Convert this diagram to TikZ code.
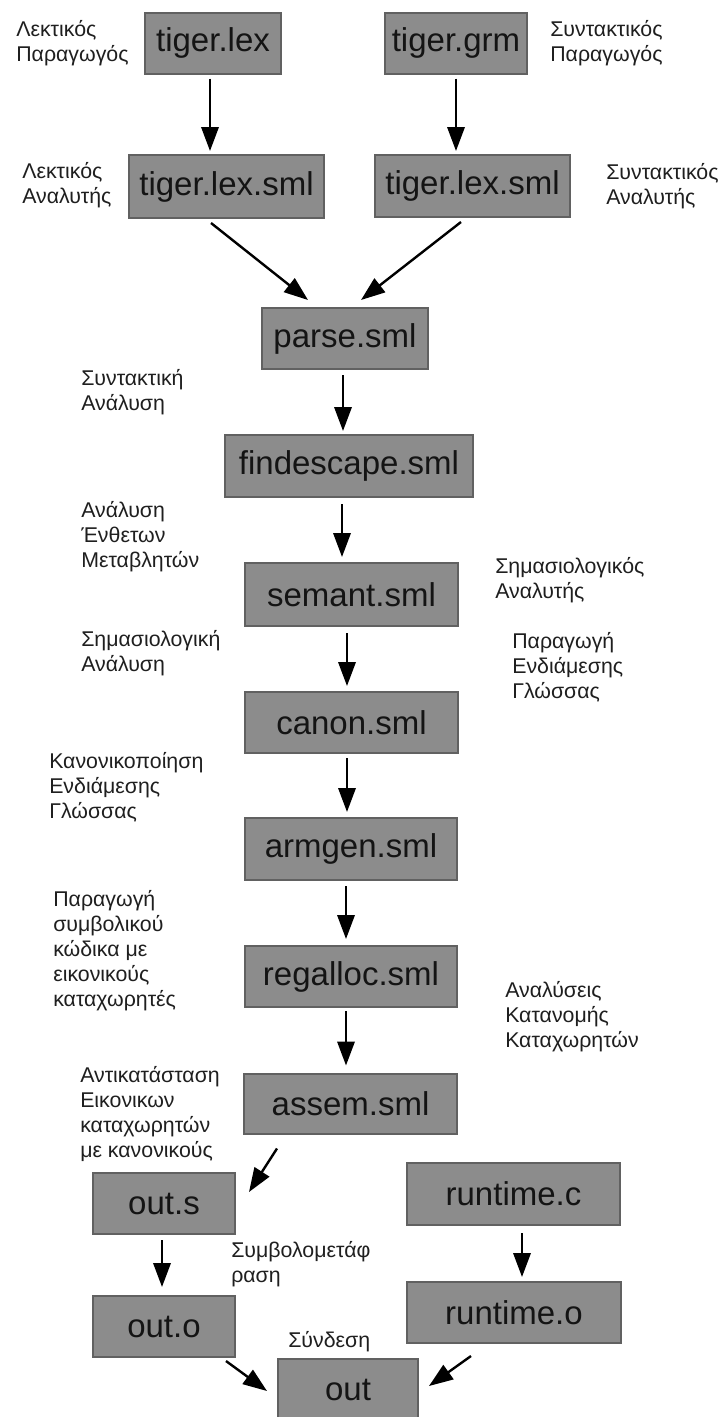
\documentclass[tikz,border=0pt]{standalone}
\usepackage{fontspec}
\setmainfont{Liberation Sans}
\usetikzlibrary{arrows.meta,calc}
\newcommand\pxu{0.75pt}
\begin{document}
\begin{tikzpicture}[x=0.75pt,y=-0.75pt,
  file/.style={draw=black!62,line width=1.5pt,fill=black!45,inner sep=0pt,
    text=black!92,font=\fontsize{24.75pt}{28pt}\selectfont},
  note/.style={anchor=west,align=left,inner sep=0pt,text=black!88,
    font=\fontsize{16pt}{18.75pt}\selectfont},
  flow/.style={line width=1.8pt,-{Triangle[length=18pt,width=13pt]}}]
\useasboundingbox[fill=white] (0,0) rectangle (726,1417);

% source files and generated analysers
\node[file,minimum width=136*\pxu,minimum height=61*\pxu] (lex) at (213,43) {tiger.lex};
\node[file,minimum width=142*\pxu,minimum height=61*\pxu] (grm) at (456,43) {tiger.grm};
\node[file,minimum width=195*\pxu,minimum height=63*\pxu] (lexsml) at (226.5,186.5) {tiger.lex.sml};
\node[file,minimum width=195*\pxu,minimum height=62*\pxu] (grmsml) at (472.5,186) {tiger.lex.sml};

% compiler passes
\node[file,minimum width=166*\pxu,minimum height=61*\pxu] (parse) at (345,338.5) {parse.sml};
\node[file,minimum width=248*\pxu,minimum height=62*\pxu] (find) at (349,466) {findescape.sml};
\node[file,minimum width=213*\pxu,minimum height=63*\pxu] (semant) at (351.5,594.5) {semant.sml};
\node[file,minimum width=213*\pxu,minimum height=61*\pxu] (canon) at (351.5,722.5) {canon.sml};
\node[file,minimum width=212*\pxu,minimum height=62*\pxu] (armgen) at (351,849) {armgen.sml};
\node[file,minimum width=212*\pxu,minimum height=61*\pxu] (regalloc) at (351,976.5) {regalloc.sml};
\node[file,minimum width=213*\pxu,minimum height=60*\pxu] (assem) at (350.5,1103.5) {assem.sml};

% assembling and linking
\node[file,minimum width=142*\pxu,minimum height=61*\pxu] (outs) at (164,1203.5) {out.s};
\node[file,minimum width=213*\pxu,minimum height=62*\pxu] (runc) at (513.5,1194) {runtime.c};
\node[file,minimum width=142*\pxu,minimum height=61*\pxu] (outo) at (164,1326.5) {out.o};
\node[file,minimum width=214*\pxu,minimum height=61*\pxu] (runo) at (514,1312.5) {runtime.o};
\node[file,minimum width=140*\pxu,minimum height=62*\pxu] (out) at (348,1390) {out};

% side notes
\node[note] (n1) at (16,43) {Λεκτικός\\Παραγωγός};
\node[note] (n2) at (550,43) {Συντακτικός\\Παραγωγός};
\node[note] (n3) at (22,185) {Λεκτικός\\Αναλυτής};
\node[note] (n4) at (606,186) {Συντακτικός\\Αναλυτής};
\node[note] (n5) at (81,392) {Συντακτική\\Ανάλυση};
\node[note] (n6) at (81,537) {Ανάλυση\\Ένθετων\\Μεταβλητών};
\node[note] (n7) at (495,580) {Σημασιολογικός\\Αναλυτής};
\node[note] (n8) at (81,653) {Σημασιολογική\\Ανάλυση};
\node[note] (n9) at (512,667) {Παραγωγή\\Ενδιάμεσης\\Γλώσσας};
\node[note] (n10) at (49,787) {Κανονικοποίηση\\Ενδιάμεσης\\Γλώσσας};
\node[note] (n11) at (53,951) {Παραγωγή\\συμβολικού\\κώδικα με\\εικονικούς\\καταχωρητές};
\node[note] (n12) at (505,1017) {Αναλύσεις\\Κατανομής\\Καταχωρητών};
\node[note] (n13) at (80,1113.5) {Αντικατάσταση\\Εικονικων\\καταχωρητών\\με κανονικούς};
\node[note] (n14) at (231,1264.5) {Συμβολομετάφ\\ραση};
\node[note] (n15) at (288,1342) {Σύνδεση};

% connectors
\draw[flow] ($(lex.south)+(-3,4)$) -- ($(lexsml.north)+(-16.5,-3)$);
\draw[flow] ($(grm.south)+(0,4)$) -- ($(grmsml.north)+(-16.5,-3)$);
\draw[flow] ($(lexsml.south)+(-15.5,4)$) -- ($(parse.north)+(-37,-7)$);
\draw[flow] ($(grmsml.south)+(-11.5,4)$) -- ($(parse.north)+(16,-7)$);
\draw[flow] ($(parse.south)+(-2,5)$) -- ($(find.north)+(-6,-3)$);
\draw[flow] ($(find.south)+(-7,6)$) -- ($(semant.north)+(-9.5,-5)$);
\draw[flow] ($(semant.south)+(-4.5,6)$) -- ($(canon.north)+(-4.5,-5)$);
\draw[flow] ($(canon.south)+(-4.5,4)$) -- ($(armgen.north)+(-4,-5)$);
\draw[flow] ($(armgen.south)+(-5,5)$) -- ($(regalloc.north)+(-5,-6)$);
\draw[flow] ($(regalloc.south)+(-5,3)$) -- ($(assem.north)+(-4.5,-7)$);
\draw[flow] ($(assem.south west)+(34,14)$) -- ($(outs.north east)+(13,20)$);
\draw[flow] ($(outs.south)+(-2,5)$) -- ($(outo.north)+(-2,-8)$);
\draw[flow] ($(runc.south)+(8.5,7)$) -- ($(runo.north)+(8,-4)$);
\draw[flow] ($(outo.south east)+(-10,3)$) -- ($(out.north west)+(-10,33)$);
\draw[flow] ($(runo.south west)+(65,12)$) -- ($(out.north east)+(10,28)$);
\end{tikzpicture}
\end{document}
